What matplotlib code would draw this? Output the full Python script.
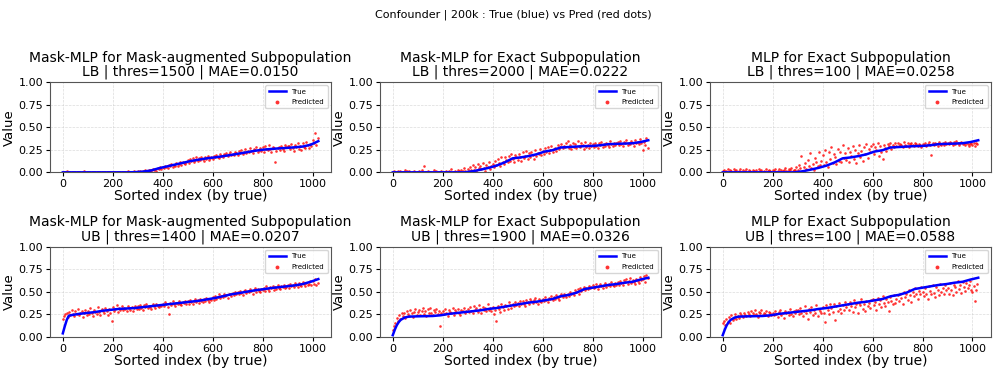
import numpy as np
import matplotlib
matplotlib.use("Agg")
import matplotlib.pyplot as plt

suptitle = "Confounder | 200k : True (blue) vs Pred (red dots)"
titles = [
    "Mask-MLP for Mask-augmented Subpopulation\nLB | thres=1500 | MAE=0.0150",
    "Mask-MLP for Exact Subpopulation\nLB | thres=2000 | MAE=0.0222",
    "MLP for Exact Subpopulation\nLB | thres=100 | MAE=0.0258",
    "Mask-MLP for Mask-augmented Subpopulation\nUB | thres=1400 | MAE=0.0207",
    "Mask-MLP for Exact Subpopulation\nUB | thres=1900 | MAE=0.0326",
    "MLP for Exact Subpopulation\nUB | thres=100 | MAE=0.0588",
]

# sorted index positions of the true-curve samples
true_idx = [0, 8, 16, 24, 32, 48, 64, 96, 128, 160, 192, 224, 256, 288, 320, 352,
            384, 416, 448, 480, 512, 544, 576, 608, 640, 672, 704, 736, 768, 800,
            832, 864, 896, 928, 960, 992, 1023]

true_lb_aug = [0, 0, 0, 0, 0, 0, 0, 0, 0, 0, 0, 0, 0,
               0.002, 0.008, 0.02, 0.045, 0.065, 0.085, 0.105, 0.125, 0.14, 0.155, 0.165,
               0.178, 0.192, 0.207, 0.222, 0.238, 0.25, 0.258, 0.265, 0.27, 0.277, 0.285,
               0.305, 0.345]
true_lb_exact = [0, 0, 0, 0, 0, 0, 0, 0, 0, 0, 0, 0, 0,
                 0.0, 0.012, 0.03, 0.05, 0.075, 0.11, 0.155, 0.165, 0.18, 0.2, 0.23,
                 0.245, 0.275, 0.28, 0.285, 0.29, 0.292, 0.3, 0.312, 0.315, 0.318, 0.322,
                 0.335, 0.355]
true_ub_aug = [0.04, 0.12, 0.19, 0.235, 0.24, 0.248, 0.255, 0.265, 0.275, 0.29, 0.3, 0.31, 0.315,
               0.32, 0.33, 0.34, 0.35, 0.36, 0.37, 0.38, 0.39, 0.40, 0.415, 0.43,
               0.45, 0.47, 0.485, 0.50, 0.515, 0.527, 0.54, 0.55, 0.56, 0.57, 0.585,
               0.61, 0.64]
true_ub_exact = [0.02, 0.08, 0.13, 0.165, 0.19, 0.215, 0.225, 0.228, 0.23, 0.232, 0.24, 0.255, 0.265,
                 0.275, 0.285, 0.295, 0.31, 0.32, 0.335, 0.35, 0.365, 0.38, 0.39, 0.405,
                 0.42, 0.45, 0.465, 0.49, 0.53, 0.545, 0.56, 0.575, 0.585, 0.6, 0.61,
                 0.635, 0.655]

# predicted values (thousandths), one every 5 sorted indices
pred_step = 5
pred_lb_aug_mask = [
    0, 3, 0, 12, 0, 0, 5, 0, 0, 0, 8, 0, 0, 2, 0, 0, 0, 10, 0, 0,
    0, 0, 4, 0, 0, 0, 0, 6, 0, 0, 0, 0, 3, 0, 0, 0, 0, 0, 9, 0,
    0, 5, 0, 0, 0, 0, 2, 0, 0, 7, 0, 0, 14, 0, 4, 0, 0, 18, 0, 6,
    12, 0, 20, 8, 15, 3, 25, 18, 10, 30, 22, 14, 35, 28, 40, 20, 48, 33, 55, 42,
    60, 45, 72, 58, 50, 80, 66, 90, 62, 85, 75, 100, 70, 95, 110, 82, 120, 98, 88, 115,
    135, 105, 150, 128, 160, 118, 142, 170, 130, 155, 138, 175, 148, 125, 165, 152, 185, 140, 160, 172,
    150, 180, 165, 195, 172, 158, 205, 185, 170, 200, 190, 215, 178, 198, 225, 188, 205, 192, 230, 210,
    195, 235, 218, 250, 205, 228, 260, 215, 240, 222, 270, 235, 210, 255, 245, 280, 230, 250, 265, 240,
    275, 230, 290, 255, 245, 300, 260, 225, 280, 265, 120, 240, 270, 285, 250, 295, 262, 235, 305, 275,
    290, 290, 255, 315, 270, 240, 300, 280, 330, 260, 295, 250, 320, 285, 270, 340, 300, 265, 310, 290,
    360, 330, 430, 300, 380]
pred_lb_exact_mask = [
    0, 10, 0, 5, 20, 0, 15, 0, 8, 0, 25, 12, 0, 18, 0, 6, 0, 14, 0, 3,
    0, 12, 0, 22, 0, 70, 5, 0, 16, 0, 8, 0, 0, 28, 0, 10, 0, 4, 0, 15,
    0, 6, 0, 20, 0, 12, 0, 35, 0, 8, 15, 0, 25, 10, 0, 30, 12, 45, 20, 8,
    40, 15, 60, 25, 80, 30, 55, 10, 90, 45, 70, 35, 100, 50, 20, 85, 60, 110, 40, 75,
    95, 60, 130, 80, 150, 100, 70, 165, 120, 90, 175, 140, 110, 185, 130, 200, 150, 120, 190, 165,
    140, 200, 175, 125, 220, 160, 185, 240, 150, 210, 170, 230, 195, 145, 250, 180, 215, 200, 260, 190,
    240, 205, 265, 225, 280, 210, 250, 295, 230, 260, 270, 240, 300, 255, 285, 310, 265, 290, 275, 320,
    345, 270, 300, 255, 330, 285, 310, 265, 350, 290, 275, 320, 300, 260, 335, 285, 305, 270, 325, 295,
    310, 280, 330, 295, 265, 320, 300, 340, 285, 315, 295, 325, 305, 275, 345, 310, 290, 330, 300, 320,
    335, 300, 350, 315, 290, 340, 320, 360, 305, 330, 310, 345, 325, 295, 355, 320, 340, 310, 365, 330,
    250, 340, 300, 380, 270]
pred_lb_exact_mlp = [
    10, 30, 0, 20, 40, 5, 25, 15, 0, 35, 10, 28, 0, 18, 32, 8, 22, 0, 15, 38,
    5, 25, 12, 0, 30, 18, 8, 22, 0, 35, 14, 28, 5, 20, 0, 32, 10, 25, 16, 6,
    28, 12, 35, 0, 20, 40, 8, 25, 15, 30, 45, 18, 10, 38, 22, 50, 14, 30, 25, 60,
    30, 80, 45, 180, 20, 60, 100, 35, 140, 70, 210, 50, 90, 25, 160, 110, 65, 230, 85, 130,
    190, 80, 250, 120, 60, 220, 150, 280, 100, 200, 170, 90, 260, 130, 230, 110, 300, 160, 210, 140,
    270, 120, 230, 180, 290, 150, 250, 100, 210, 300, 170, 240, 130, 280, 200, 310, 160, 260, 220, 290,
    310, 200, 280, 250, 320, 180, 290, 230, 150, 300, 270, 240, 310, 290, 330, 260, 300, 280, 320, 295,
    330, 290, 310, 300, 280, 340, 305, 295, 320, 285, 310, 330, 300, 290, 325, 310, 295, 315, 305, 280,
    315, 300, 325, 290, 310, 335, 305, 195, 320, 300, 330, 310, 295, 340, 315, 305, 325, 300, 335, 315,
    330, 310, 340, 320, 300, 335, 315, 345, 325, 305, 320, 340, 310, 330, 300, 325, 315, 295, 310, 320,
    300, 330, 290, 320, 310]
pred_ub_aug_mask = [
    200, 230, 250, 265, 220, 280, 240, 300, 255, 230, 285, 250, 310, 240, 270, 290, 225, 260, 300, 245,
    290, 250, 320, 270, 235, 300, 280, 255, 330, 275, 245, 305, 285, 260, 315, 290, 240, 310, 270, 180,
    330, 290, 310, 350, 280, 320, 300, 340, 295, 325, 305, 285, 345, 315, 300, 330, 290, 320, 340, 305,
    340, 310, 355, 325, 300, 350, 335, 365, 320, 345, 330, 310, 360, 340, 325, 370, 345, 330, 355, 340,
    370, 345, 385, 360, 335, 250, 375, 355, 395, 365, 340, 380, 360, 395, 370, 350, 385, 375, 400, 365,
    395, 370, 410, 385, 365, 400, 420, 390, 405, 380, 425, 400, 385, 415, 395, 430, 405, 390, 420, 410,
    440, 410, 455, 425, 445, 470, 430, 455, 440, 475, 450, 465, 430, 480, 470, 455, 490, 465, 500, 475,
    500, 475, 510, 490, 465, 505, 520, 485, 510, 495, 530, 505, 480, 520, 540, 500, 525, 510, 495, 535,
    520, 545, 510, 560, 530, 505, 550, 540, 565, 520, 555, 535, 570, 545, 525, 560, 550, 575, 540, 555,
    575, 545, 590, 560, 580, 550, 600, 570, 555, 595, 580, 565, 605, 585, 560, 600, 575, 590, 615, 580,
    620, 590, 640, 570, 600]
pred_ub_exact_mask = [
    80, 120, 160, 210, 180, 240, 200, 260, 230, 270, 215, 290, 250, 235, 300, 265, 220, 280, 310, 245,
    275, 300, 240, 285, 315, 255, 290, 230, 305, 270, 320, 260, 245, 295, 275, 310, 250, 285, 120, 265,
    290, 250, 310, 270, 235, 300, 280, 260, 320, 245, 295, 275, 310, 265, 240, 300, 285, 325, 260, 290,
    310, 275, 330, 290, 260, 345, 300, 320, 280, 355, 305, 270, 335, 295, 315, 285, 360, 300, 325, 290,
    330, 250, 300, 180, 345, 310, 280, 370, 330, 295, 355, 340, 310, 385, 350, 325, 370, 340, 390, 355,
    380, 345, 400, 360, 395, 370, 340, 410, 385, 365, 420, 395, 375, 405, 430, 390, 370, 415, 400, 385,
    420, 395, 440, 410, 385, 430, 415, 450, 405, 440, 425, 460, 430, 410, 455, 470, 440, 480, 460, 445,
    480, 455, 500, 470, 490, 460, 515, 495, 525, 480, 540, 510, 530, 555, 515, 545, 530, 565, 540, 555,
    570, 540, 555, 585, 530, 560, 590, 565, 545, 580, 600, 555, 575, 590, 565, 605, 580, 560, 595, 575,
    610, 580, 620, 595, 570, 625, 605, 640, 590, 615, 650, 600, 630, 610, 585, 645, 620, 600, 660, 625,
    640, 670, 610, 690, 650]
pred_ub_exact_mlp = [
    150, 180, 130, 200, 170, 220, 160, 240, 190, 210, 250, 200, 230, 215, 260, 240, 225, 270, 245, 230,
    280, 250, 230, 290, 260, 240, 300, 255, 225, 280, 265, 295, 240, 270, 250, 285, 230, 275, 260, 245,
    270, 240, 290, 255, 225, 280, 300, 245, 265, 215, 290, 260, 275, 240, 310, 255, 230, 285, 265, 295,
    300, 250, 320, 270, 235, 290, 340, 260, 200, 310, 280, 330, 245, 295, 270, 350, 230, 305, 285, 260,
    330, 270, 170, 350, 300, 250, 370, 320, 280, 360, 190, 340, 290, 380, 310, 260, 350, 300, 390, 330,
    370, 300, 390, 340, 280, 410, 330, 360, 260, 380, 350, 420, 310, 370, 290, 400, 340, 380, 320, 410,
    420, 350, 390, 300, 430, 370, 410, 330, 450, 380, 340, 420, 390, 290, 440, 400, 360, 460, 380, 420,
    460, 400, 480, 430, 370, 500, 440, 470, 410, 520, 460, 390, 500, 450, 540, 480, 420, 510, 470, 550,
    500, 450, 540, 480, 420, 560, 510, 470, 580, 490, 440, 550, 520, 460, 590, 500, 540, 480, 570, 520,
    540, 480, 600, 520, 460, 580, 550, 500, 620, 530, 570, 490, 610, 550, 510, 600, 540, 580, 620, 520,
    500, 560, 400, 520, 590]

panels = [
    (true_lb_aug, pred_lb_aug_mask),
    (true_lb_exact, pred_lb_exact_mask),
    (true_lb_exact, pred_lb_exact_mlp),
    (true_ub_aug, pred_ub_aug_mask),
    (true_ub_exact, pred_ub_exact_mask),
    (true_ub_exact, pred_ub_exact_mlp),
]

plt.rcParams['font.family'] = ['DejaVu Sans']
fig, axes = plt.subplots(2, 3, figsize=(9.97, 3.74), dpi=100)
fig.subplots_adjust(left=0.0502, right=0.994, top=0.781, bottom=0.099,
                    wspace=0.174, hspace=0.82)

for ax, title, (tv, pv) in zip(axes.flat, titles, panels):
    px = np.arange(len(pv)) * pred_step
    py = np.array(pv) / 1000.0
    ax.plot(true_idx, tv, color='blue', lw=1.8, label='True', zorder=3)
    ax.scatter(px, py, s=3.5, color='red', alpha=0.8, linewidths=0,
               label='Predicted', zorder=2)
    ax.set_ylim(0, 1.0)
    ax.set_yticks([0, 0.25, 0.5, 0.75, 1.0])
    ax.set_xticks([0, 200, 400, 600, 800, 1000])
    ax.set_xlim(-51.15, 1074.15)
    ax.set_title(title, fontsize=10, linespacing=1.0, pad=4.5)
    ax.set_xlabel("Sorted index (by true)", fontsize=10, labelpad=0)
    ax.set_ylabel("Value", fontsize=9.5, labelpad=2)
    ax.tick_params(labelsize=8, length=3, pad=2)
    ax.grid(True, ls='--', lw=0.5, color='#cccccc', alpha=0.7)
    for s in ax.spines.values():
        s.set_color('#555555')
    leg = ax.legend(loc='upper right', fontsize=5, markerscale=1.5,
                    handlelength=2.5, borderpad=0.5, labelspacing=0.6)

fig.suptitle(suptitle, fontsize=8, x=0.515, y=0.975)
fig.savefig("out.png", dpi=100)
